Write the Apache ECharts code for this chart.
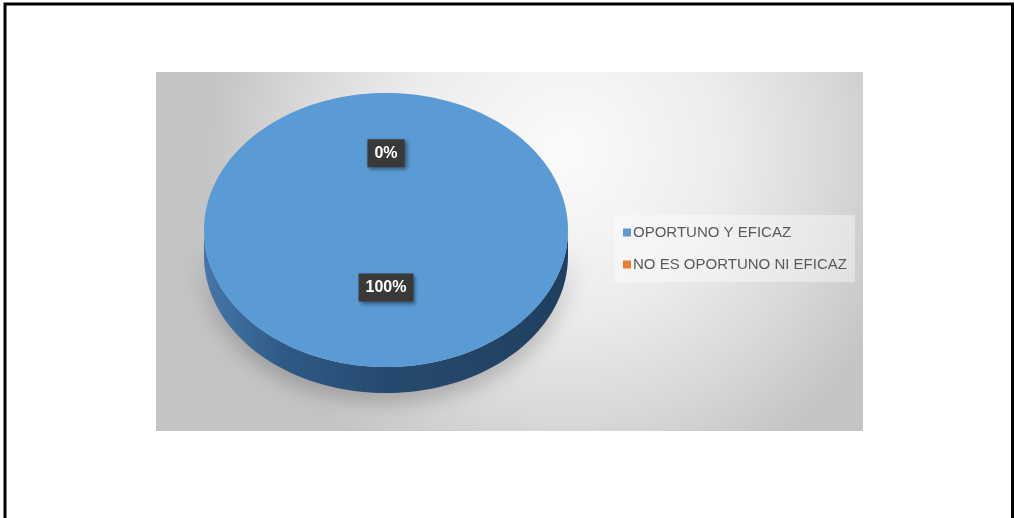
<!DOCTYPE html>
<html>
<head>
<meta charset="utf-8">
<script src="https://cdn.jsdelivr.net/npm/echarts@6/dist/echarts.min.js"></script>
<style>
  html, body { margin: 0; padding: 0; background: #fff; }
  #main { width: 1014px; height: 518px; }
</style>
</head>
<body>
<div id="main"></div>
<script>
'use strict';

// chart data
let categories = ['OPORTUNO Y EFICAZ', 'NO ES OPORTUNO NI EFICAZ'];
let values = [100, 0];
let colors = ['#5b9bd5', '#ed7d31'];

// pie geometry (flattened 3d look)
const CX = 386, CY = 230, RX = 182, RY = 137, DEPTH = 26;
const LABEL_R = [0.42, 0.56];

let total = values.reduce(function (a, b) { return a + b; }, 0);

function sliceRange(idx) {
    let before = 0;
    for (let i = 0; i < idx; i++) before += values[i];
    let a = -Math.PI / 2 + 2 * Math.PI * before / total;
    let b = a + 2 * Math.PI * values[idx] / total;
    return [a, b];
}

function ellPoint(t, dy) {
    return [CX + Math.cos(t) * RX, CY + Math.sin(t) * RY + (dy || 0)];
}

function arcPoints(a, b, dy) {
    let pts = [];
    let n = Math.max(2, Math.ceil((b - a) / (Math.PI / 90)));
    for (let k = 0; k <= n; k++) pts.push(ellPoint(a + (b - a) * k / n, dy));
    return pts;
}

function renderSlice(params, api) {
    let idx = params.seriesIndex;
    let r = sliceRange(idx);
    let children = [];
    let color = colors[idx];

    if (r[1] > r[0]) {
        // front side wall
        let s = Math.max(r[0], 0), e = Math.min(r[1], Math.PI);
        if (e > s) {
            let pts = arcPoints(s, e, 0).concat(arcPoints(s, e, DEPTH).reverse());
            children.push({
                type: 'polygon',
                shape: { points: pts },
                style: {
                    fill: new echarts.graphic.LinearGradient(0, 0, 1, 0, [
                        { offset: 0, color: idx === 0 ? '#4677aa' : '#b25d24' },
                        { offset: 0.22, color: idx === 0 ? '#2e5a86' : '#8f4a1c' },
                        { offset: 0.5, color: idx === 0 ? '#264a6f' : '#7a3f18' },
                        { offset: 1, color: idx === 0 ? '#203f5f' : '#6a3614' }
                    ]),
                    shadowBlur: 22,
                    shadowColor: 'rgba(0,0,0,0.25)',
                    shadowOffsetY: 8
                }
            });
        }
        // top face
        let top = [[CX, CY]].concat(arcPoints(r[0], r[1], 0));
        children.push({
            type: 'polygon',
            shape: { points: top },
            style: { fill: color }
        });
    }

    // data label
    let mid = (r[0] + r[1]) / 2;
    let f = LABEL_R[idx];
    children.push({
        type: 'text',
        x: CX + Math.cos(mid) * RX * f,
        y: CY + Math.sin(mid) * RY * f,
        z2: 100,
        style: {
            text: Math.round(values[idx] / total * 100) + '%',
            fill: '#ffffff',
            font: 'bold 16px "Liberation Sans", Arial, sans-serif',
            align: 'center',
            verticalAlign: 'middle',
            backgroundColor: '#3b3838',
            padding: [6, 7, 6, 7],
            shadowBlur: 4,
            shadowColor: 'rgba(0,0,0,0.45)',
            shadowOffsetX: 2,
            shadowOffsetY: 2
        }
    });
    return { type: 'group', children: children };
}

let chart = echarts.init(document.getElementById('main'));

let option = {
    animation: false,
    graphic: [
        {
            type: 'rect',
            z: 0,
            shape: { x: 156, y: 72, width: 707, height: 359 },
            style: {
                fill: new echarts.graphic.RadialGradient(0.58, 0.22, 1.0, [
                    { offset: 0, color: '#fbfbfb' },
                    { offset: 0.45, color: '#ececec' },
                    { offset: 0.75, color: '#d8d8d8' },
                    { offset: 1, color: '#c4c4c4' }
                ])
            }
        },
        {
            type: 'polyline',
            z: 0,
            shape: { points: [[5, 530], [5, 4], [1012.5, 4], [1012.5, 530]] },
            style: { stroke: '#000', lineWidth: 3, fill: null }
        }
    ],
    legend: {
        orient: 'vertical',
        left: 614,
        top: 215,
        data: categories,
        icon: 'rect',
        itemWidth: 8,
        itemHeight: 8,
        itemGap: 17,
        padding: [10, 8, 10, 9],
        backgroundColor: 'rgba(255,255,255,0.4)',
        selectedMode: false,
        textStyle: {
            color: '#595959',
            fontSize: 15,
            fontFamily: '"Liberation Sans", Arial, sans-serif',
            padding: [0, 0, 0, -3]
        }
    },
    series: categories.map(function (name, i) {
        return {
            type: 'custom',
            name: name,
            coordinateSystem: 'none',
            itemStyle: { color: colors[i] },
            renderItem: renderSlice,
            data: [values[i]]
        };
    })
};

chart.setOption(option);
</script>
</body>
</html>
